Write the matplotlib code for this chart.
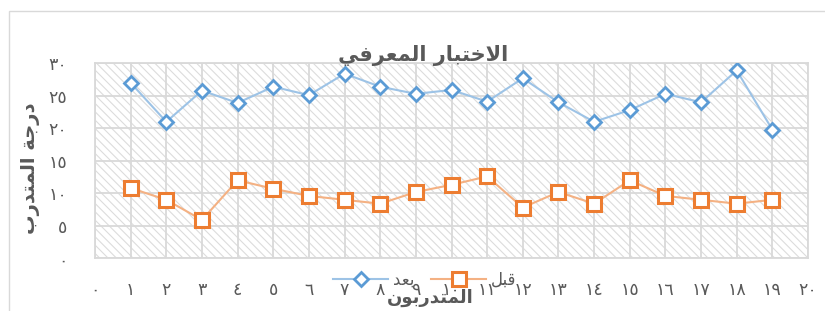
import matplotlib
matplotlib.use('Agg')
import matplotlib.pyplot as plt
from matplotlib.patches import Rectangle

# ============================================
# DATA
# ============================================

trainees = list(range(1, 20))
after_scores = [27.0, 21.0, 25.8, 23.9, 26.4, 25.1, 28.4, 26.4, 25.3, 25.9,
                24.1, 27.7, 24.0, 21.0, 22.8, 25.3, 24.0, 28.9, 19.8]
before_scores = [10.8, 9.0, 5.9, 12.0, 10.7, 9.6, 9.0, 8.4, 10.2, 11.3,
                 12.6, 7.8, 10.2, 8.4, 12.0, 9.6, 9.0, 8.4, 9.0]
x_ticks = list(range(0, 21))
y_ticks = list(range(0, 31, 5))

# Arabic text, pre-shaped (presentation forms, visual order)
TITLE = '\ufef2\ufed3\ufeae\ufecc\ufee4\ufedf\ufe8d \ufead\ufe8e\ufe92\ufe98\ufea7\ufefb\ufe8d'    # الاختبار المعرفي
YLABEL = '\ufe8f\ufead\ufeaa\ufe98\ufee4\ufedf\ufe8d \ufe94\ufe9f\ufead\ufea9'                     # درجة المتدرب
XLABEL = '\ufee5\ufeee\ufe91\ufead\ufeaa\ufe98\ufee4\ufedf\ufe8d'                                  # المتدربون
AFTER_LABEL = '\ufeaa\ufecc\ufe91'    # بعد
BEFORE_LABEL = '\ufede\ufe92\ufed7'   # قبل

COLORS = {
    'after_edge':  '#5b9bd5',
    'after_line':  '#9dc3e6',
    'before_edge': '#ed7d31',
    'before_line': '#f4b183',
    'grid':        '#d9d9d9',
    'hatch':       '#dcdcdc',
    'text':        '#595959',
}

W, H = 825, 311


def ar_digits(n):
    return ''.join(chr(0x660 + int(d)) for d in str(n))


def fx(px):
    return px / W


def fy(py):
    return 1 - py / H


plt.rcParams['font.family'] = ['DejaVu Sans']
plt.rcParams['hatch.linewidth'] = 0.8

fig = plt.figure(figsize=(W / 100, H / 100), dpi=100)
ax = fig.add_axes([fx(95), fy(258.3), (808 - 95) / W, (258.3 - 63.3) / H])

# hatched plot area
ax.add_patch(Rectangle((0, 0), 1, 1, transform=ax.transAxes, facecolor='white',
                       edgecolor=COLORS['hatch'], lw=0, hatch='\\\\\\\\', zorder=0.1))

ax.plot(trainees, after_scores, color=COLORS['after_line'], lw=1.5, marker='D', ms=7,
        mfc='white', mec=COLORS['after_edge'], mew=2, label=AFTER_LABEL, zorder=3)
ax.plot(trainees, before_scores, color=COLORS['before_line'], lw=1.5, marker='s', ms=10.5,
        mfc='white', mec=COLORS['before_edge'], mew=2.2, label=BEFORE_LABEL, zorder=3)

ax.set_xlim(0, 20)
ax.set_ylim(0, 30)
ax.set_xticks(x_ticks)
ax.set_xticklabels([ar_digits(v) for v in x_ticks])
ax.set_yticks(y_ticks)
ax.set_yticklabels([ar_digits(v) for v in y_ticks])
ax.set_axisbelow(True)
ax.grid(True, color=COLORS['grid'], lw=1.3)
for s in ax.spines.values():
    s.set_color(COLORS['grid'])
    s.set_linewidth(1.3)
ax.tick_params(length=0, colors=COLORS['text'], labelsize=12.5)
ax.tick_params(axis='x', pad=16)
ax.tick_params(axis='y', pad=20)

# texts
fig.text(fx(423), fy(56), TITLE, ha='center', va='center', fontsize=15,
         fontweight='bold', color=COLORS['text'], zorder=5)
fig.text(fx(430), fy(298), XLABEL, ha='center', va='center', fontsize=13,
         fontweight='bold', color=COLORS['text'])
fig.text(fx(30), fy(168), YLABEL, ha='center', va='center', rotation=90, fontsize=14,
         fontweight='bold', color=COLORS['text'])

leg = fig.legend(loc='center', bbox_to_anchor=(fx(425), fy(280)), ncol=2, frameon=False,
                 fontsize=12, handlelength=3.3, handletextpad=0.3, columnspacing=1.0,
                 borderpad=0)
for t in leg.get_texts():
    t.set_color(COLORS['text'])

# chart area border
fig.add_artist(Rectangle((fx(8.5), -0.1), 1.1, fy(11) + 0.1, transform=fig.transFigure,
                         fill=False, edgecolor=COLORS['grid'], lw=1))

fig.savefig('out.png', dpi=100, facecolor='white')
